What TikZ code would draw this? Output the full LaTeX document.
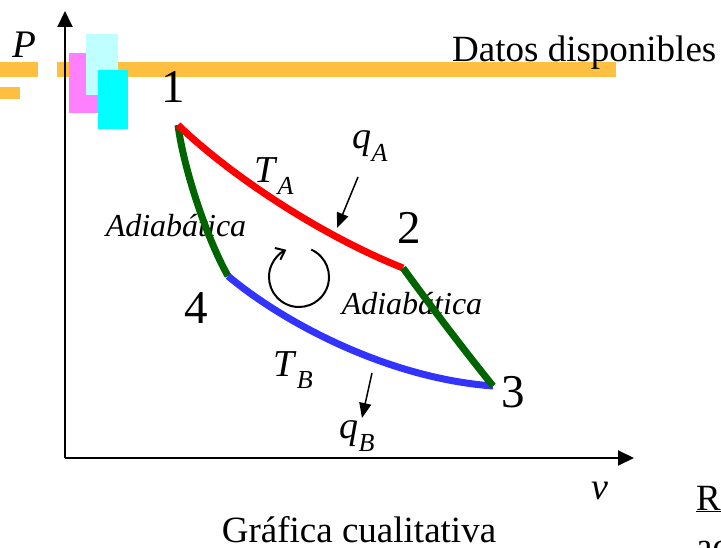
\documentclass[tikz,border=0pt]{standalone}
\usepackage{fontspec}
\setmainfont{Liberation Serif}
\usetikzlibrary{arrows.meta}
\definecolor{barorange}{HTML}{FFBF40}
\definecolor{boxpink}{HTML}{FF80FF}
\definecolor{boxlightcyan}{HTML}{C0FFFF}
\definecolor{boxcyan}{HTML}{00FFFF}
\definecolor{adgreen}{HTML}{006400}
\definecolor{isored}{HTML}{FF0000}
\definecolor{isoblue}{HTML}{3333FF}
\newcommand{\fsz}[1]{\fontsize{#1}{#1}\selectfont}
\newcommand{\sublbl}[2]{\textit{#1}\raisebox{-0.33em}{\fsz{26}\textit{#2}}}
\tikzset{
  axisline/.style={line width=2pt,-{Triangle[length=16pt,width=15pt]}},
  curveline/.style={line width=7pt},
  heatarrow/.style={line width=1.5pt,-{Triangle[length=15pt,width=12pt]}},
  ptlabel/.style={inner sep=0pt,font=\fsz{47}},
  symlabel/.style={inner sep=0pt,font=\fsz{38}},
  adlabel/.style={inner sep=0pt,font=\fsz{32}\itshape},
  bigtext/.style={inner sep=0pt,font=\fsz{37}},
}
\begin{document}
\begin{tikzpicture}[x=1pt,y=-1pt]
\useasboundingbox (0,0) rectangle (721,548);
% orange bars and colour boxes
\fill[barorange] (0,62) rectangle (38,77);
\fill[barorange] (57,62) rectangle (616,77);
\fill[barorange] (0,87) rectangle (20,99);
\fill[boxpink] (69,53) rectangle (98,113);
\fill[boxlightcyan] (86,34) rectangle (118,95);
\fill[boxcyan] (98,70) rectangle (128,129);
% axes
\coordinate (O) at (65,458);
\coordinate (ytip) at (65,11);
\coordinate (xtip) at (634,458);
\draw[axisline] (O) -- (ytip);
\draw[axisline] (O) -- (xtip);
% texts
\node[inner sep=0pt,font=\fsz{39}\itshape] (P) at (24,45) {P};
\node[inner sep=0pt,font=\fsz{38}\itshape] (v) at (600,491) {v};
\node[bigtext,anchor=base west] (datos) at (452,62) {Datos disponibles};
\node[bigtext,anchor=base] (graf) at (359,542) {Gráfica cualitativa};
\node[bigtext,anchor=base west] (R) at (696,510) {\underline{R}};
\node[bigtext,anchor=base west] (ac) at (696,558) {ac};
\node[ptlabel] (n1) at (173,87) {1};
\node[ptlabel] (n2) at (409,228) {2};
\node[ptlabel] (n3) at (513,392) {3};
\node[ptlabel] (n4) at (196,308) {4};
\node[adlabel] (ad1) at (176,226) {Adiabática};
\node[adlabel] (ad2) at (412,304) {Adiabática};
\node[symlabel] (TA) at (274,176) {\sublbl{T}{A}};
\node[symlabel] (qA) at (370,146) {\sublbl{q}{A}};
\node[symlabel] (TB) at (293,370) {\sublbl{T}{B}};
\node[symlabel] (qB) at (357,436) {\sublbl{q}{B}};
% cycle points
\coordinate (p1) at (178,125);
\coordinate (p2) at (403,268);
\coordinate (p3) at (493,386);
\coordinate (p4) at (228,276);
% curves
\draw[curveline,adgreen] (p1) .. controls (183,165) and (205,235) .. (p4);
\draw[curveline,isored] (p1) .. controls (230,175) and (320,235) .. (p2);
\draw[curveline,isoblue] (p4) .. controls (280,320) and (385,378) .. (p3);
\draw[curveline,adgreen] (p2) .. controls (430,305) and (460,345) .. (p3);
% heat arrows
\coordinate (qAs) at (358,177);
\coordinate (qAe) at (337,228);
\coordinate (qBs) at (372,373);
\coordinate (qBe) at (362,418);
\draw[heatarrow] (qAs) -- (qAe);
\draw[heatarrow] (qBs) -- (qBe);
% cycle direction
\coordinate (cc) at (299,277);
\draw[line width=2pt,-{Straight Barb[length=8pt,width=13pt]}] ([shift={(-66:30)}]cc) arc[start angle=-66,end angle=245,radius=30];
\end{tikzpicture}
\end{document}
